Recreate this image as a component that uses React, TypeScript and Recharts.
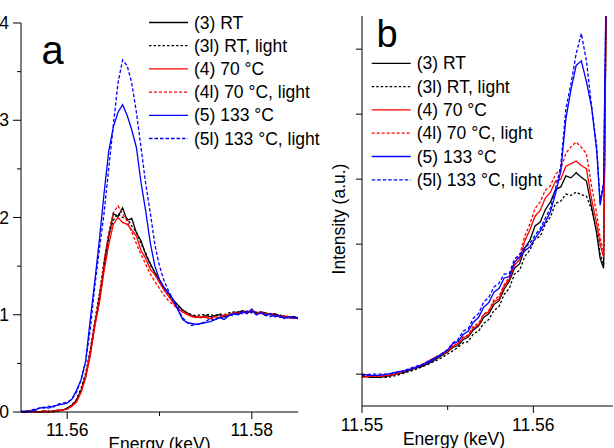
import React from 'react';
import { LineChart, Line, XAxis, YAxis, Label } from 'recharts';

// panel a: normalized XANES, energy in keV
const energyA = [
  11.555, 11.5555, 11.556, 11.5565, 11.557, 11.5575, 11.558, 11.5585, 11.559, 11.5595,
  11.56, 11.5605, 11.561, 11.5615, 11.562, 11.5625, 11.563, 11.5635, 11.564, 11.5645,
  11.565, 11.5655, 11.566, 11.5665, 11.567, 11.5675, 11.568, 11.5685, 11.569, 11.5695,
  11.57, 11.5705, 11.571, 11.5715, 11.572, 11.5725, 11.573, 11.5735, 11.574, 11.5745,
  11.575, 11.5755, 11.576, 11.5765, 11.577, 11.5775, 11.578, 11.5785, 11.579, 11.5795,
  11.58, 11.5805, 11.581, 11.5815, 11.582, 11.5825, 11.583, 11.5835, 11.584, 11.5845, 11.585,
];
const a3 = [
  0, 0, 0.01, 0, 0, 0.01, 0, 0.01, 0.02, 0.02,
  0.04, 0.07, 0.12, 0.22, 0.37, 0.6, 0.9, 1.15, 1.5, 1.8,
  2.04, 2.01, 2.1, 1.97, 1.99, 1.84, 1.76, 1.62, 1.53, 1.43,
  1.36, 1.28, 1.22, 1.15, 1.1, 1.05, 1.02, 0.99, 0.98, 0.97,
  0.99, 0.98, 0.99, 1.0, 0.98, 1.0, 1.02, 1.03, 1.04, 1.03,
  1.04, 1.02, 1.03, 1.02, 1.0, 1.01, 0.99, 0.98, 0.97, 0.98, 0.96,
];
const a3l = [
  0.01, 0, 0, 0.01, 0, 0, 0.01, 0, 0.01, 0.02,
  0.04, 0.07, 0.13, 0.24, 0.4, 0.64, 0.94, 1.22, 1.55, 1.82,
  1.97, 2.04, 2.0, 1.99, 1.91, 1.85, 1.73, 1.64, 1.51, 1.44,
  1.35, 1.27, 1.2, 1.14, 1.08, 1.04, 1.02, 1.0, 0.99, 1.0,
  1.0, 1.0, 0.99, 1.01, 1.0, 1.02, 1.03, 1.02, 1.04, 1.03,
  1.02, 1.03, 1.01, 1.02, 1.0, 0.99, 1.0, 0.98, 0.97, 0.98, 0.97,
];
const a4 = [
  0, 0, 0.01, 0, 0, 0.01, 0, 0.01, 0.01, 0.02,
  0.03, 0.06, 0.1, 0.2, 0.35, 0.58, 0.88, 1.13, 1.45, 1.72,
  1.93, 2.0, 1.95, 1.93, 1.87, 1.81, 1.66, 1.58, 1.47, 1.41,
  1.33, 1.25, 1.19, 1.12, 1.06, 1.03, 1.0, 0.98, 0.97, 0.98,
  0.97, 0.96, 0.98, 0.97, 1.0, 0.99, 1.02, 1.01, 1.03, 1.02,
  1.04, 1.01, 1.03, 1.0, 1.01, 0.99, 0.98, 0.99, 0.97, 0.96, 0.97,
];
const a4l = [
  0, 0.01, 0, 0.01, 0, 0, 0.01, 0.01, 0.02, 0.02,
  0.03, 0.06, 0.11, 0.21, 0.37, 0.62, 0.93, 1.2, 1.55, 1.85,
  2.05, 2.12, 2.04, 1.96, 1.85, 1.73, 1.62, 1.52, 1.42, 1.34,
  1.27, 1.2, 1.14, 1.1, 1.06, 1.03, 1.01, 0.99, 0.98, 0.97,
  0.98, 0.97, 0.96, 0.98, 0.99, 1.01, 1.0, 1.03, 1.02, 1.04,
  1.02, 1.03, 1.01, 1.0, 1.02, 0.99, 0.98, 0.97, 0.99, 0.96, 0.97,
];
const a5 = [
  0, 0.01, 0, 0.02, 0.04, 0.05, 0.04, 0.06, 0.07, 0.08,
  0.09, 0.13, 0.22, 0.33, 0.52, 0.95, 1.35, 1.78, 2.25, 2.68,
  2.93, 3.08, 3.16, 3.05, 2.9, 2.72, 2.36, 2.07, 1.74, 1.5,
  1.36, 1.28, 1.22, 1.15, 1.05, 0.95, 0.92, 0.91, 0.9, 0.91,
  0.92, 0.93, 0.95, 0.97, 0.95, 0.99, 1.01, 1.0, 1.03, 1.01,
  1.06, 1.0, 1.02, 0.99, 1.01, 0.98, 0.99, 0.96, 0.98, 0.97, 0.96,
];
const a5l = [
  0.01, 0, 0.02, 0.03, 0.04, 0.04, 0.06, 0.05, 0.08, 0.09,
  0.1, 0.13, 0.2, 0.33, 0.52, 0.85, 1.3, 1.68, 2.05, 2.5,
  2.95, 3.38, 3.62, 3.56, 3.38, 3.08, 2.72, 2.35, 2.05, 1.72,
  1.5, 1.35, 1.24, 1.15, 1.06, 0.97, 0.92, 0.89, 0.9, 0.91,
  0.93, 0.96, 0.94, 0.98, 0.96, 1.0, 0.99, 1.02, 1.01, 1.04,
  1.03, 1.0, 1.02, 1.0, 0.98, 1.0, 0.97, 0.98, 0.96, 0.98, 0.97,
];

// panel b: pre-edge zoom, arbitrary units
const energyB = [
  11.55, 11.5505, 11.551, 11.5515, 11.552, 11.5525, 11.553, 11.5535, 11.554, 11.5545, 11.555,
  11.5553, 11.5556, 11.5559, 11.5562, 11.5565, 11.5568, 11.5571, 11.5574, 11.5577, 11.558,
  11.5583, 11.5586, 11.5589, 11.5592, 11.5595, 11.5598, 11.5601, 11.5604, 11.5607, 11.561,
  11.5613, 11.5616, 11.5619, 11.5622, 11.5625, 11.5628, 11.5631, 11.5634, 11.5637,
  11.5639, 11.5641, 11.5643, 11.5645, 11.5646,
];
const b3 = [
  -0.03, -0.05, -0.05, -0.03, 0, 0.03, 0.08, 0.12, 0.18, 0.26, 0.34,
  0.41, 0.44, 0.53, 0.57, 0.68, 0.74, 0.87, 0.93, 1.07, 1.13,
  1.31, 1.43, 1.63, 1.7, 1.94, 2.06, 2.28, 2.34, 2.53, 2.65,
  2.84, 2.88, 3.05, 3.02, 3.1, 3.03, 2.97, 2.57, 2.16,
  1.78, 1.63, 7, 9, 10,
];
const b3l = [
  -0.02, -0.03, -0.05, -0.05, -0.02, 0.02, 0.06, 0.11, 0.17, 0.23, 0.31,
  0.36, 0.41, 0.48, 0.5, 0.62, 0.66, 0.78, 0.84, 0.98, 1.04,
  1.23, 1.32, 1.54, 1.6, 1.81, 1.91, 2.08, 2.12, 2.31, 2.42,
  2.63, 2.66, 2.77, 2.75, 2.8, 2.76, 2.74, 2.53, 2.2,
  1.85, 1.68, 7, 9, 10,
];
const b4 = [
  -0.05, -0.03, -0.03, -0.02, 0, 0.05, 0.09, 0.14, 0.2, 0.28, 0.35,
  0.43, 0.47, 0.56, 0.59, 0.71, 0.76, 0.91, 0.96, 1.11, 1.16,
  1.35, 1.46, 1.68, 1.76, 2.05, 2.22, 2.43, 2.52, 2.71, 2.8,
  2.97, 3.0, 3.2, 3.24, 3.28, 3.21, 3.16, 2.69, 2.31,
  2.0, 1.8, 7, 9, 10,
];
const b4l = [
  0, -0.02, -0.03, -0.02, 0.02, 0.05, 0.09, 0.15, 0.22, 0.29, 0.37,
  0.44, 0.47, 0.57, 0.6, 0.74, 0.78, 0.92, 0.98, 1.14, 1.2,
  1.38, 1.49, 1.72, 1.83, 2.12, 2.31, 2.55, 2.65, 2.83, 2.9,
  3.08, 3.15, 3.4, 3.5, 3.57, 3.49, 3.39, 2.89, 2.47,
  2.09, 1.88, 7, 9, 10,
];
const b5 = [
  0, -0.02, -0.02, 0, 0.03, 0.05, 0.09, 0.14, 0.2, 0.28, 0.37,
  0.47, 0.5, 0.61, 0.66, 0.8, 0.87, 1.03, 1.1, 1.26, 1.32,
  1.48, 1.5, 1.72, 1.8, 1.9, 1.96, 2.09, 2.2, 2.34, 2.5,
  2.78, 3.12, 3.93, 4.38, 4.75, 4.82, 4.5, 4.11, 3.43,
  2.6, 2.91, 7, 9, 10,
];
const b5l = [
  -0.02, 0, 0, 0, 0.02, 0.06, 0.11, 0.15, 0.22, 0.29, 0.38,
  0.48, 0.53, 0.66, 0.7, 0.86, 0.93, 1.11, 1.18, 1.34, 1.4,
  1.54, 1.55, 1.77, 1.84, 1.95, 2.01, 2.14, 2.24, 2.4, 2.56,
  2.86, 3.2, 4.08, 4.47, 4.93, 5.24, 4.82, 4.12, 3.5,
  2.65, 2.95, 7, 9, 10,
];

const seriesKeys = ['s3', 's3l', 's4', 's4l', 's5', 's5l'];
const seriesNames = ['(3) RT', '(3l) RT, light', '(4) 70 °C', '(4l) 70 °C, light', '(5) 133 °C', '(5l) 133 °C, light'];
const seriesColors = ['#000000', '#000000', '#ff0000', '#ff0000', '#0000ff', '#0000ff'];
const seriesDash = ['', '2.5 2', '', '3 2', '', '3.5 2'];

const ticksAx = [11.56, 11.57, 11.58];
const labelsAx = [11.56, 11.58];
const ticksAy = [0, 0.5, 1, 1.5, 2, 2.5, 3, 3.5, 4];
const ticksBx = [11.55, 11.555, 11.56];
const labelsBx = [11.55, 11.56];
const ticksBy = [0, 1, 2, 3, 4, 5];

const dataA = energyA.map((e, i) => ({ e, s3: a3[i], s3l: a3l[i], s4: a4[i], s4l: a4l[i], s5: a5[i], s5l: a5l[i] }));
const dataB = energyB.map((e, i) => ({ e, s3: b3[i], s3l: b3l[i], s4: b4[i], s4l: b4l[i], s5: b5[i], s5l: b5l[i] }));

const FONT = '"Liberation Sans", Arial, sans-serif';
const FS = 17.5;

const makeXTick = (labels: number[], dy: number) => (props: any) => {
  const { x, y, payload } = props;
  const major = labels.includes(payload.value);
  return (
    <g>
      <line x1={x} x2={x} y1={y} y2={y + (major ? 7 : 4)} stroke="#000" />
      {major && (
        <text x={x} y={y + dy} textAnchor="middle" fontFamily={FONT} fontSize={FS} fill="#000">
          {payload.value.toFixed(2)}
        </text>
      )}
    </g>
  );
};

const YTickA = (props: any) => {
  const { x, y, payload } = props;
  const major = Number.isInteger(payload.value);
  return (
    <g>
      <line x1={x} x2={x - (major ? 8 : 4)} y1={y} y2={y} stroke="#000" />
      {major && (
        <text x={x - 12} y={y + 6} textAnchor="end" fontFamily={FONT} fontSize={FS} fill="#000">
          {payload.value}
        </text>
      )}
    </g>
  );
};

const YTickB = (props: any) => {
  const { x, y } = props;
  return <line x1={x} x2={x - 6} y1={y} y2={y} stroke="#000" />;
};

const LegendBlock = ({ x, y, step }: { x: number; y: number; step: number }) => (
  <g>
    {seriesNames.map((name, i) => (
      <g key={name}>
        <line
          x1={x}
          x2={x + 39}
          y1={y + i * step}
          y2={y + i * step}
          stroke={seriesColors[i]}
          strokeWidth={1.3}
          strokeDasharray={seriesDash[i] || undefined}
        />
        <text x={x + 45} y={y + i * step + 6} fontFamily={FONT} fontSize={FS} fill="#000">
          {name}
        </text>
      </g>
    ))}
  </g>
);

const renderLines = () =>
  seriesKeys.map((k, i) => (
    <Line
      key={k}
      type="linear"
      dataKey={k}
      stroke={seriesColors[i]}
      strokeWidth={1.3}
      strokeDasharray={seriesDash[i] || undefined}
      dot={false}
      activeDot={false}
      isAnimationActive={false}
    />
  ));

export default function App() {
  return (
    <div style={{ position: 'absolute', left: 0, top: 0, width: 614, height: 448, background: '#fff', overflow: 'hidden' }}>
      <div style={{ position: 'absolute', left: 0, top: 0 }}>
        <LineChart width={330} height={448} data={dataA} margin={{ top: 23, right: 32, bottom: 0, left: 0 }}>
          <XAxis
            dataKey="e"
            type="number"
            domain={[11.555, 11.585]}
            allowDataOverflow
            ticks={ticksAx}
            interval={0}
            height={36}
            tickSize={0}
            tickMargin={0}
            tickLine={false}
            axisLine={{ stroke: '#000' }}
            tick={makeXTick(labelsAx, 24)}
          >
            <Label
              content={(p: any) => (
                <text x={p.viewBox.x + p.viewBox.width / 2} y={p.viewBox.y + 37.5} textAnchor="middle" fontFamily={FONT} fontSize={FS} fill="#000">
                  Energy (keV)
                </text>
              )}
            />
          </XAxis>
          <YAxis
            type="number"
            domain={[0, 4]}
            ticks={ticksAy}
            interval={0}
            width={21}
            tickSize={0}
            tickMargin={0}
            tickLine={false}
            axisLine={{ stroke: '#000' }}
            tick={YTickA}
          />
          {renderLines()}
          <text x={41.5} y={64} fontFamily={FONT} fontSize={40} fill="#000">a</text>
          <LegendBlock x={149} y={22.5} step={23.2} />
        </LineChart>
      </div>
      <div style={{ position: 'absolute', left: 330, top: 0 }}>
        <LineChart width={284} height={448} data={dataB} margin={{ top: 16, right: 1, bottom: 0, left: 0 }}>
          <XAxis
            dataKey="e"
            type="number"
            domain={[11.55, 11.56465]}
            allowDataOverflow
            ticks={ticksBx}
            interval={0}
            height={42}
            tickSize={0}
            tickMargin={0}
            tickLine={false}
            axisLine={{ stroke: '#000' }}
            tick={makeXTick(labelsBx, 25)}
          >
            <Label
              content={(p: any) => (
                <text x={p.viewBox.x + 92} y={p.viewBox.y + 38.5} textAnchor="middle" fontFamily={FONT} fontSize={FS} fill="#000">
                  Energy (keV)
                </text>
              )}
            />
          </XAxis>
          <YAxis
            type="number"
            domain={[-0.49, 5.51]}
            allowDataOverflow
            ticks={ticksBy}
            interval={0}
            width={32}
            tickSize={0}
            tickMargin={0}
            tickLine={false}
            axisLine={{ stroke: '#000' }}
            tick={YTickB}
          >
            <Label
              content={() => (
                <text
                  x={14.5}
                  y={219}
                  transform="rotate(-90, 14.5, 219)"
                  textAnchor="middle"
                  fontFamily={FONT}
                  fontSize={FS}
                  fill="#000"
                >
                  Intensity (a.u.)
                </text>
              )}
            />
          </YAxis>
          {renderLines()}
          <text x={46.5} y={47} fontFamily={FONT} fontSize={38} fill="#000">b</text>
          <LegendBlock x={41.7} y={63.3} step={23.3} />
        </LineChart>
      </div>
    </div>
  );
}
